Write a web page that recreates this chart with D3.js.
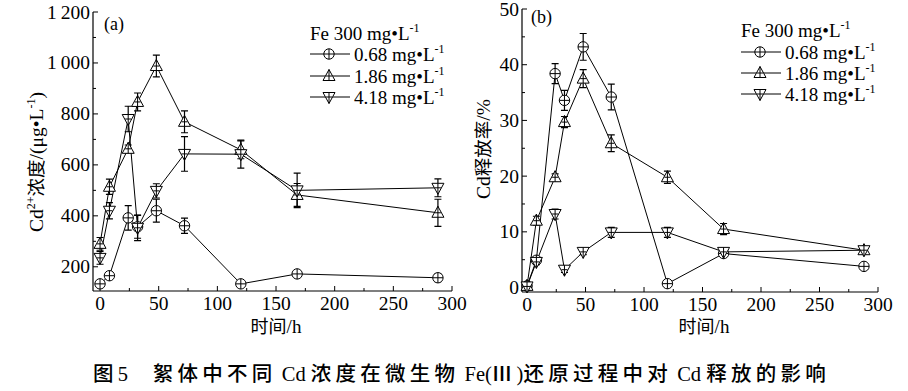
<!DOCTYPE html>
<html><head><meta charset="utf-8">
<script src="https://cdn.jsdelivr.net/npm/d3@7/dist/d3.min.js"></script>
<style>body{margin:0;background:#fff}svg{display:block}</style>
</head><body>
<svg id="c" width="908" height="391"></svg>
<script>
const times = [0, 8, 24, 32, 48, 72, 120, 168, 288];
const seriesNames = ["0.68", "1.86", "4.18"];
const markerTypes = ["circle", "up", "down"];
// Panel (a): Cd2+ concentration (µg/L)
const concA_068 = [133, 165, 392, 357, 420, 361, 133, 172, 157];
const concA_186 = [290, 514, 663, 847, 988, 769, 659, 482, 412];
const concA_418 = [235, 420, 780, 353, 498, 643, 642, 500, 510];
const errA_068 = [12, 12, 48, 45, 45, 30, 10, 10, 15];
const errA_186 = [25, 30, 15, 35, 43, 43, 35, 45, 53];
const errA_418 = [25, 32, 50, 50, 28, 68, 55, 68, 35];
// Panel (b): Cd release rate (%)
const rateB_068 = [0.3, 4.9, 38.4, 33.6, 43.2, 34.2, 0.7, 6.1, 3.8];
const rateB_186 = [0.3, 12.0, 19.8, 29.7, 37.5, 25.9, 19.8, 10.5, 6.7];
const rateB_418 = [0.2, 4.6, 13.2, 3.2, 6.4, 9.9, 9.9, 6.4, 6.7];
const errB_068 = [0.4, 0.6, 1.8, 1.8, 2.4, 2.3, 0.4, 0.6, 0.4];
const errB_186 = [0.3, 0.8, 0.6, 1.0, 1.6, 1.5, 1.1, 1.0, 0.5];
const errB_418 = [0.3, 0.5, 0.9, 0.5, 0.5, 0.9, 0.9, 0.6, 0.6];
const xTicks = [0, 50, 100, 150, 200, 250, 300];
const yTicksA = [200, 400, 600, 800, 1000, 1200];
const yTicksB = [0, 10, 20, 30, 40, 50];
const caption = "图5\u3000絮体中不同 Cd 浓度在微生物 Fe(Ⅲ)还原过程中对 Cd 释放的影响";

const svg = d3.select("#c");
const SERIF = "Liberation Serif, Noto Sans CJK SC, serif";

function fmtA(v){ return v >= 1000 ? Math.floor(v/1000) + "\u2009" + String(v%1000).padStart(3,"0") : String(v); }

function drawMarker(g, type, cx, cy){
  const s = 5.2;
  if (type === "circle") {
    g.append("circle").attr("cx",cx).attr("cy",cy).attr("r",s).attr("fill","#fff").attr("stroke","#000").attr("stroke-width",1);
    g.append("path").attr("d",`M${cx-s},${cy}H${cx+s}M${cx},${cy-s}V${cy+s}`).attr("stroke","#000").attr("stroke-width",1);
  } else if (type === "up") {
    g.append("path").attr("d",`M${cx},${cy-6.5}L${cx+6},${cy+4.5}L${cx-6},${cy+4.5}Z`).attr("fill","#fff").attr("stroke","#000").attr("stroke-width",1);
    g.append("path").attr("d",`M${cx-3},${cy}H${cx+3}M${cx},${cy-6.5}V${cy+4.5}`).attr("stroke","#000").attr("stroke-width",1);
  } else {
    g.append("path").attr("d",`M${cx},${cy+6.5}L${cx+6},${cy-4.5}L${cx-6},${cy-4.5}Z`).attr("fill","#fff").attr("stroke","#000").attr("stroke-width",1);
    g.append("path").attr("d",`M${cx-3},${cy}H${cx+3}M${cx},${cy-4.5}V${cy+6.5}`).attr("stroke","#000").attr("stroke-width",1);
  }
}

function txt(g, fam, size){ return g.append("text").style("font-family", fam).style("font-size", size + "px"); }

function panel(opts){
  const g = svg.append("g");
  const x = d3.scaleLinear().domain(opts.xDomain).range(opts.xRange);
  const y = d3.scaleLinear().domain(opts.yDomain).range(opts.yRange);
  const y0 = opts.yRange[0], x0 = opts.xRange[0];
  g.append("line").attr("x1",x0).attr("x2",x0).attr("y1",y0).attr("y2",opts.yRange[1]).attr("stroke","#000").attr("stroke-width",1.2);
  g.append("line").attr("x1",x0).attr("x2",opts.xRange[1]).attr("y1",y0).attr("y2",y0).attr("stroke","#000").attr("stroke-width",1.2);
  d3.range(0, 301, 25).forEach(t => {
    const major = t % 50 === 0;
    g.append("line").attr("x1",x(t)).attr("x2",x(t)).attr("y1",y0).attr("y2",y0-(major?5:3)).attr("stroke","#000");
  });
  xTicks.forEach(t => {
    txt(g, SERIF, 19.5).attr("x",x(t)).attr("y",y0+19).attr("text-anchor","middle").text(t);
  });
  opts.yMinor.forEach(v => {
    const major = opts.yTicks.includes(v);
    g.append("line").attr("x1",x0).attr("x2",x0+(major?5:3)).attr("y1",y(v)).attr("y2",y(v)).attr("stroke","#000");
  });
  opts.yTicks.forEach(v => {
    txt(g, SERIF, 19.5).attr("x",x0-3).attr("y",y(v)+6.5).attr("text-anchor","end").text(opts.fmt(v));
  });
  opts.series.forEach((s) => {
    const pts = times.map((t, k) => [x(t), y(s.vals[k])]);
    g.append("path").attr("d", d3.line()(pts)).attr("fill","none").attr("stroke","#000").attr("stroke-width",1);
    times.forEach((t, k) => {
      const cx = x(t), yt = y(s.vals[k] + s.err[k]), yb = y(s.vals[k] - s.err[k]);
      g.append("path").attr("d",`M${cx},${yt}V${yb}M${cx-3.5},${yt}H${cx+3.5}M${cx-3.5},${yb}H${cx+3.5}`)
        .attr("stroke","#000").attr("stroke-width",1.2).attr("fill","none");
    });
  });
  opts.series.forEach((s, i) => {
    times.forEach((t, k) => drawMarker(g, markerTypes[i], x(t), y(s.vals[k])));
  });
  txt(g, SERIF, 18).attr("x",opts.label[0]).attr("y",opts.label[1]).text(opts.labelText);
  const L = opts.legend;
  const head = txt(g, SERIF, 19).attr("x",L.x).attr("y",L.y0);
  head.append("tspan").text("Fe 300 mg\u2022L");
  head.append("tspan").attr("dy",-8).style("font-size","12px").text("-1");
  seriesNames.forEach((n, i) => {
    const cy = L.rows[i];
    g.append("line").attr("x1",L.x).attr("x2",L.x+40).attr("y1",cy).attr("y2",cy).attr("stroke","#000");
    drawMarker(g, markerTypes[i], L.x+19, cy);
    const t = txt(g, SERIF, 19).attr("x",L.x+44).attr("y",cy+6.5);
    t.append("tspan").text(n + " mg\u2022L");
    t.append("tspan").attr("dy",-8).style("font-size","12px").text("-1");
  });
  const xl = txt(g, SERIF, 19).attr("x",opts.xLabelX).attr("y",333).attr("text-anchor","middle");
  xl.append("tspan").style("font-size","18px").text("时间");
  xl.append("tspan").text("/h");
  const yl = txt(g, SERIF, 19.5).attr("transform",`translate(${opts.yLabel[0]},${opts.yLabel[1]}) rotate(-90)`)
    .attr("text-anchor","middle");
  opts.yLabelParts.forEach(p => {
    const ts = yl.append("tspan").text(p.t);
    if (p.cjk) ts.style("font-size","18.5px");
    if (p.sup) ts.attr("dy",-8).style("font-size","12px");
    if (p.down) ts.attr("dy",8);
  });
}

panel({
  xDomain:[-6,300], xRange:[93,452], yDomain:[105,1200], yRange:[291,12],
  yTicks:yTicksA, yMinor:d3.range(200,1201,100), fmt:fmtA,
  series:[{vals:concA_068,err:errA_068},{vals:concA_186,err:errA_186},{vals:concA_418,err:errA_418}],
  label:[104,30], labelText:"(a)",
  legend:{x:310, y0:40, rows:[54,76,97]},
  xLabelX:276, yLabel:[43,162],
  yLabelParts:[{t:"Cd"},{t:"2+",sup:true},{t:"浓度",cjk:true,down:true},{t:"/(μg\u2022L"},{t:"-1",sup:true},{t:")",down:true}]
});
panel({
  xDomain:[-4.3,300], xRange:[522,878], yDomain:[-0.8,50], yRange:[292,9],
  yTicks:yTicksB, yMinor:d3.range(0,51,5), fmt:v=>String(v),
  series:[{vals:rateB_068,err:errB_068},{vals:rateB_186,err:errB_186},{vals:rateB_418,err:errB_418}],
  label:[531,23], labelText:"(b)",
  legend:{x:741, y0:37, rows:[52,73,94]},
  xLabelX:704, yLabel:[490,149],
  yLabelParts:[{t:"Cd"},{t:"释放率",cjk:true},{t:"/%"}]
});

// caption: Latin runs kept compact, spacing added only between CJK characters
const cap = svg.append("text").attr("x",93).attr("y",381)
  .style("font-family",SERIF).style("font-size","20.5px").style("font-weight","500");
const runs = caption.match(/[A-Za-z0-9() ]+|[^A-Za-z0-9() ]+/g);
const spans = runs.map(r => ({ r, cjk: !/^[A-Za-z0-9() ]+$/.test(r),
  node: cap.append("tspan").text(r) }));
const w = cap.node().getComputedTextLength();
const nCjk = d3.sum(spans.filter(s => s.cjk), s => s.r.length);
if (w > 0 && w < 737 && nCjk > 0) {
  const ls = (737 - w) / nCjk;
  spans.filter(s => s.cjk).forEach(s => s.node.style("letter-spacing", ls + "px"));
}
</script>
</body></html>
